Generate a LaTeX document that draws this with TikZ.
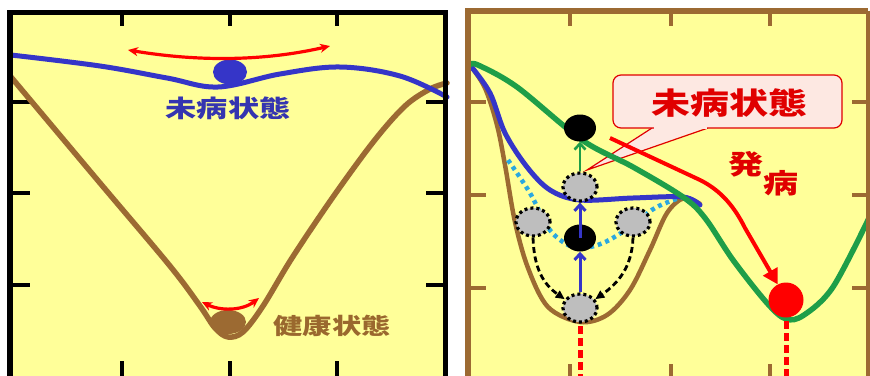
\documentclass[tikz,border=0pt]{standalone}
\usepackage{fontspec}
\newfontfamily\cjk[FakeStretch=1.3]{Noto Sans CJK JP}
\usetikzlibrary{arrows.meta,shapes.geometric}
\definecolor{bgyel}{HTML}{FFFF99}
\definecolor{cblue}{HTML}{3535C8}
\definecolor{tblue}{HTML}{3434B0}
\definecolor{cbrown}{HTML}{9C6A32}
\definecolor{tbrown}{HTML}{9A682E}
\definecolor{cgreen}{HTML}{1E9E48}
\definecolor{ccyan}{HTML}{2AA8E0}
\definecolor{cred}{HTML}{FF0000}
\definecolor{tred}{HTML}{E00000}
\definecolor{cgray}{HTML}{BEBEBE}
\definecolor{cpink}{HTML}{FDE8E2}
\begin{document}
\begin{tikzpicture}[x=1pt,y=-1pt,
  lbl/.style={inner sep=0pt, font=\cjk\bfseries},
  ball/.style={ellipse, inner sep=0pt, minimum width=#1},
  graybal/.style={ellipse, inner sep=0pt, minimum width=34pt, minimum height=28pt,
     fill=cgray, draw=black, line width=3.2pt, dash pattern=on 3pt off 3pt},
  blkbal/.style={ellipse, inner sep=0pt, minimum width=32pt, minimum height=27pt, fill=black},
  tickl/.style={line width=3.5pt},
  curve/.style={line width=5pt, line cap=round},
  redtwo/.style={cred, line width=3.2pt, {Stealth[length=10pt,width=9pt]}-{Stealth[length=10pt,width=9pt]}},
  openarr/.style={line width=3pt, -{Straight Barb[length=6pt,width=11pt]}},
  dasharr/.style={line width=2.8pt, dash pattern=on 6pt off 3.5pt, -{Stealth[length=9pt,width=8pt,inset=0pt]}},
  reddash/.style={cred, line width=5pt, dash pattern=on 8pt off 4pt}
]
\useasboundingbox (0,0) rectangle (870,375);
\fill[white] (0,0) rectangle (870,375);
% ---------------- left panel ----------------
\fill[bgyel] (10,12.5) rectangle (445.5,380);
\foreach \x in {122,230,337} {
  \draw[tickl] (\x,12) -- (\x,26);
  \draw[tickl] (\x,361) -- (\x,380);
}
\foreach \y in {102,193,285} {
  \draw[tickl] (10,\y) -- (30,\y);
  \draw[tickl] (426,\y) -- (445,\y);
}
% brown curve
\draw[curve, cbrown, line width=5.5pt] plot[smooth, tension=0.55] coordinates
  {(11,77) (100,183) (170,266) (200,306) (215,328) (228,337) (243,332) (263,306) (292,258) (333,197) (374,141) (405,106) (430,89) (447,83)};
% blue curve
\draw[curve, cblue] plot[smooth, tension=0.6] coordinates
  {(11,55) (100,66) (167,78) (218,87) (280,74) (340,67) (400,76) (447,97)};
\node[ball=34pt, minimum height=25pt, fill=cblue] (bb) at (230,72) {};
\node[ball=36pt, minimum height=24pt, fill=cbrown] (brb) at (228,322) {};
\coordinate (ra1) at (128,50);
\coordinate (ra2) at (330,46);
\draw[redtwo] (ra1) .. controls (200,62) and (265,61) .. (ra2);
\coordinate (rb1) at (202,302);
\coordinate (rb2) at (259,298);
\draw[redtwo] (rb1) .. controls (220,311) and (242,311) .. (rb2);
\node[lbl, text=tblue, font=\cjk\bfseries\fontsize{24}{24}\selectfont] (tmibyo) at (228,108) {未病状態};
\node[lbl, text=tbrown, font=\cjk\bfseries\fontsize{22.5}{22.5}\selectfont] (tkenko) at (332,326) {健康状態};
% frame
\draw[line width=5.5pt] (10,380) -- (10,12.5) -- (445.5,12.5) -- (445.5,380);
% ---------------- right panel ----------------
\fill[bgyel] (468,10.5) rectangle (868,380);
\foreach \x in {570,671,770} {
  \draw[tickl, cbrown] (\x,10) -- (\x,26);
  \draw[tickl, cbrown] (\x,364) -- (\x,380);
}
\foreach \y in {102,195,288} {
  \draw[tickl, cbrown] (467,\y) -- (486,\y);
  \draw[tickl, cbrown] (852,\y) -- (868,\y);
}
% callout
\coordinate (ptip) at (587,170);
\fill[cpink] (652,127) -- (ptip) -- (708,127) -- cycle;
\draw[tred, line width=1.2pt, line join=miter] (652,128) -- (ptip) -- (708,128);
\node[draw=tred, line width=1.2pt, fill=cpink, rounded corners=8pt, minimum width=229pt, minimum height=53pt, inner sep=0pt] (callout) at (727.5,101.5) {};
\fill[cpink] (653.5,126.2) rectangle (706.5,129.3);
\node[lbl, text=tred, font=\cjk\bfseries\fontsize{30}{30}\selectfont] (tcall) at (729,103) {未病状態};
\node[lbl, text=tred, font=\cjk\bfseries\fontsize{27}{27}\selectfont] (thatsu) at (746,164) {発};
\node[lbl, text=tred, font=\cjk\bfseries\fontsize{27}{27}\selectfont] (tbyo) at (781,183) {病};
% brown curve
\draw[curve, cbrown, line width=4.5pt] plot[smooth, tension=0.55] coordinates
  {(470,65) (485,88) (497,125) (505,165) (515,222) (528,268) (548,307) (580,322) (607,315) (630,290) (650,250) (667,213) (684,198) (700,204)};
% cyan dotted
\draw[ccyan, line width=4.5pt, dash pattern=on 4pt off 4pt] plot[smooth, tension=0.6] coordinates
  {(508,160) (530,193) (547,226) (563,242) (580,248) (603,243) (630,227) (655,208) (682,197)};
% blue curve
\draw[curve, cblue] plot[smooth, tension=0.55] coordinates
  {(470,65) (490,93) (505,133) (527,167) (550,190) (580,200) (633,198) (683,197) (700,205)};
% green curve
\draw[curve, cgreen, line width=5.5pt] plot[smooth, tension=0.55] coordinates
  {(470,65) (478,65) (517,87) (582,140) (633,167) (683,197) (705,218) (733,260) (767,303) (786,319) (804,315) (833,287) (869,218)};
\coordinate (d1) at (580,380);
\coordinate (d2) at (786,380);
% balls
\node[blkbal] (k1) at (580,128) {};
\node[graybal] (g1) at (580,187) {};
\node[graybal] (g2) at (533,222) {};
\node[graybal] (g3) at (633,222) {};
\node[graybal] (g4) at (580,308) {};
\node[blkbal] (k2) at (580,238) {};
\node[circle, inner sep=0pt, minimum size=35pt, fill=cred] (rb) at (786,300) {};
\draw[reddash] (580,326) -- (d1);
\draw[reddash] (786,321) -- (d2);
% arrows
\draw[openarr, cgreen, line width=2.6pt] (g1.north) -- (k1.south);
\draw[openarr, cblue] (k2.center) -- (g1.south);
\draw[openarr, cblue] (g4.north) -- (k2.south);
\draw[dasharr] (g2.south) .. controls (534,268) and (543,284) .. (g4.150);
\draw[dasharr] (g3.south) .. controls (632,268) and (617,284) .. (g4.30);
\coordinate (rs) at (610,138);
\draw[cred, line width=4pt, -{Triangle[length=15pt,width=16pt]}] (rs) -- (700,180) .. controls (722,191) and (735,208) .. (745,228) -- (rb.118);
% frame
\draw[cbrown, line width=6pt] (468,380) -- (468,10.5) -- (868,10.5);
\draw[cbrown, line width=3.5pt] (868,10.5) -- (868,380);
\end{tikzpicture}
\end{document}
